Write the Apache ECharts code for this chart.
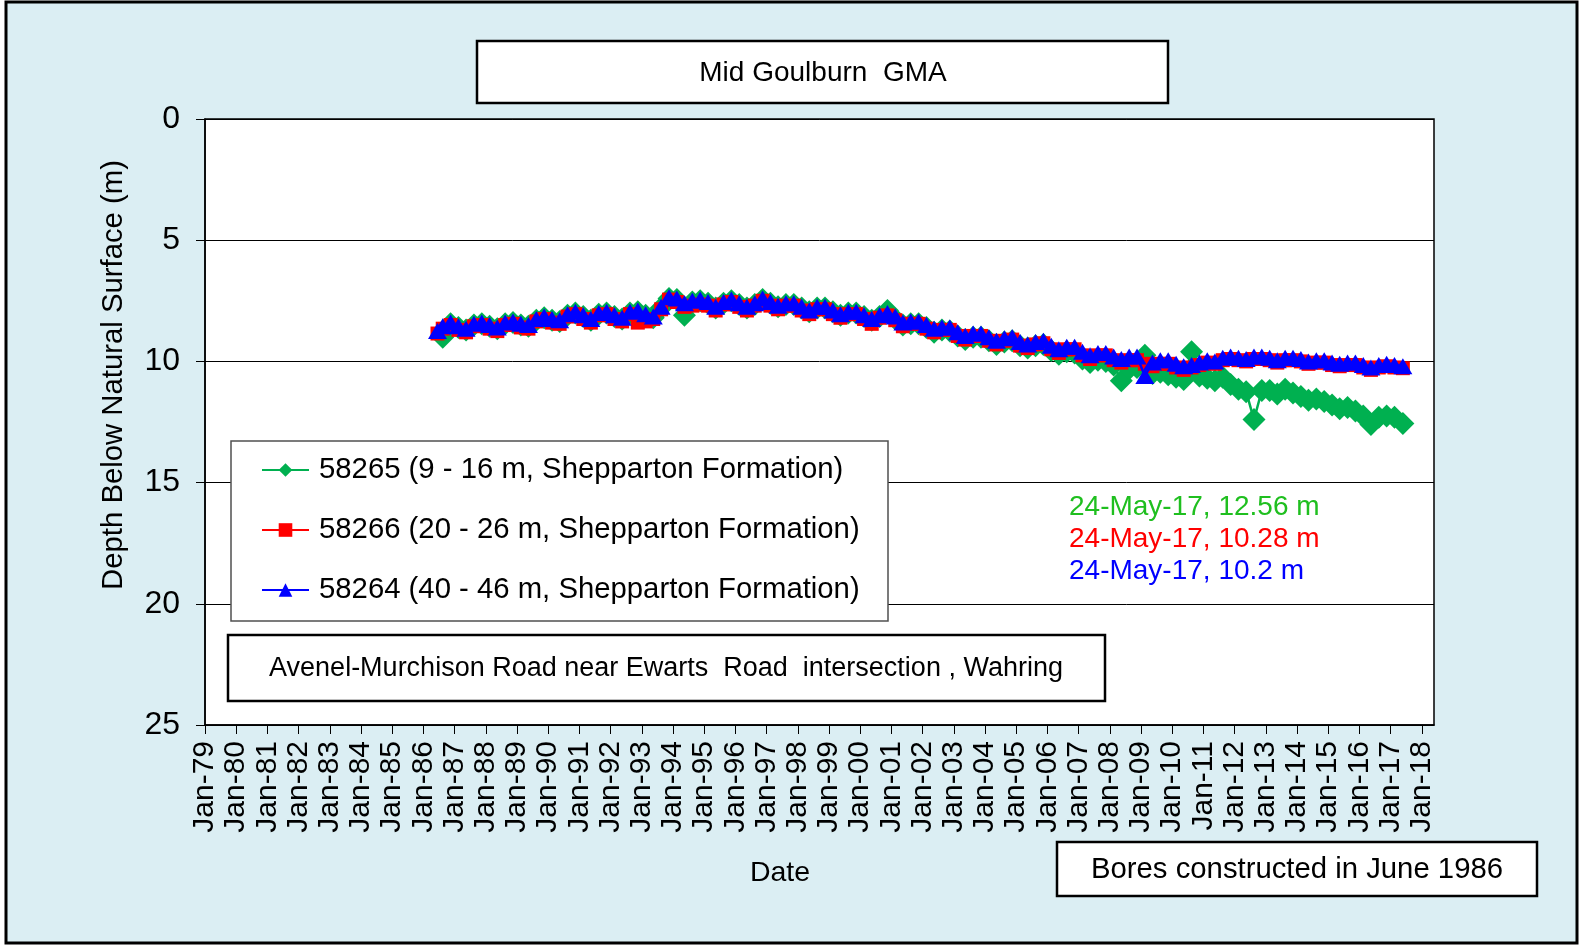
<!DOCTYPE html>
<html>
<head>
<meta charset="utf-8">
<script src="https://cdn.jsdelivr.net/npm/echarts@6/dist/echarts.min.js"></script>
<style>
html,body{margin:0;padding:0;background:#ffffff;}
#wrap{position:relative;width:1580px;height:945px;background:#ffffff;}
#bg{position:absolute;left:6px;top:2px;width:1571px;height:941px;background:#DBEEF3;}
#chart{position:absolute;left:0;top:0;width:1580px;height:945px;}
</style>
</head>
<body>
<div id="wrap"><div id="bg"></div><div id="chart"></div></div>
<script>
// ---------------- DATA ----------------
const seriesNames = [
  '58265 (9 - 16 m, Shepparton Formation)',
  '58266 (20 - 26 m, Shepparton Formation)',
  '58264 (40 - 46 m, Shepparton Formation)'
];
const dates = [
  '1986-06-15','1986-08-15','1986-11-15',
  '1987-02-15','1987-05-15','1987-08-15','1987-11-15',
  '1988-02-15','1988-05-15','1988-08-15','1988-11-15',
  '1989-02-15','1989-05-15','1989-08-15','1989-11-15',
  '1990-02-15','1990-05-15','1990-08-15','1990-11-15',
  '1991-02-15','1991-05-15','1991-08-15','1991-11-15',
  '1992-02-15','1992-05-15','1992-08-15','1992-11-15',
  '1993-02-15','1993-05-15','1993-08-15','1993-11-15',
  '1994-02-15','1994-05-15','1994-08-15','1994-11-15',
  '1995-02-15','1995-05-15','1995-08-15','1995-11-15',
  '1996-02-15','1996-05-15','1996-08-15','1996-11-15',
  '1997-02-15','1997-05-15','1997-08-15','1997-11-15',
  '1998-02-15','1998-05-15','1998-08-15','1998-11-15',
  '1999-02-15','1999-05-15','1999-08-15','1999-11-15',
  '2000-02-15','2000-05-15','2000-08-15','2000-11-15',
  '2001-02-15','2001-05-15','2001-08-15','2001-11-15',
  '2002-02-15','2002-05-15','2002-08-15','2002-11-15',
  '2003-02-15','2003-05-15','2003-08-15','2003-11-15',
  '2004-02-15','2004-05-15','2004-08-15','2004-11-15',
  '2005-02-15','2005-05-15','2005-08-15','2005-11-15',
  '2006-02-15','2006-05-15','2006-08-15','2006-11-15',
  '2007-02-15','2007-05-15','2007-08-15','2007-11-15',
  '2008-02-15','2008-05-15','2008-08-15','2008-11-15',
  '2009-02-15','2009-05-15','2009-08-15','2009-11-15',
  '2010-02-15','2010-05-15','2010-08-15','2010-11-15',
  '2011-02-15','2011-05-15','2011-08-15','2011-11-15',
  '2012-02-15','2012-05-15','2012-08-15','2012-11-15',
  '2013-02-15','2013-05-15','2013-08-15','2013-11-15',
  '2014-02-15','2014-05-15','2014-08-15','2014-11-15',
  '2015-02-15','2015-05-15','2015-08-15','2015-11-15',
  '2016-02-15','2016-05-15','2016-08-15','2016-11-15',
  '2017-02-15','2017-05-24'
];
// 58265 (green) depth below natural surface, m
const bore58265 = [
  null, 9.00, 8.45,
  8.60, 8.70, 8.50, 8.45,
  8.55, 8.65, 8.45, 8.40,
  8.50, 8.55, 8.30, 8.20,
  8.30, 8.35, 8.10, 8.00,
  8.15, 8.30, 8.05, 8.00,
  8.15, 8.25, 8.00, 7.95,
  8.10, 8.20, 7.80, 7.40,
  7.45, 8.10, 7.55, 7.50,
  7.60, 7.80, 7.60, 7.50,
  7.65, 7.80, 7.65, 7.45,
  7.60, 7.75, 7.65, 7.65,
  7.80, 7.95, 7.80, 7.80,
  7.95, 8.10, 8.00, 8.00,
  8.15, 8.30, 8.15, 7.90,
  8.25, 8.50, 8.45, 8.45,
  8.60, 8.80, 8.70, 8.75,
  8.95, 9.10, 9.00, 9.00,
  9.15, 9.30, 9.20, 9.15,
  9.35, 9.45, 9.35, 9.30,
  9.55, 9.70, 9.60, 9.65,
  9.90, 10.05, 9.95, 10.00,
  10.15, 10.80, 10.30, 10.25,
  9.75, 10.50, 10.45, 10.55,
  10.65, 10.75, 9.60, 10.60,
  10.70, 10.80, 10.65, 10.95,
  11.15, 11.25, 12.40, 11.20,
  11.20, 11.35, 11.15, 11.30,
  11.45, 11.60, 11.55, 11.65,
  11.80, 11.95, 11.90, 12.05,
  12.25, 12.60, 12.30, 12.25,
  12.30, 12.56
];
// 58266 (red)
const bore58266 = [
  8.85, 8.65, 8.50,
  8.70, 8.80, 8.55, 8.50,
  8.65, 8.75, 8.50, 8.45,
  8.60, 8.65, 8.35, 8.25,
  8.40, 8.45, 8.15, 8.05,
  8.25, 8.40, 8.10, 8.05,
  8.25, 8.35, 8.05, 8.40,
  8.35, 8.25, 7.85, 7.45,
  7.55, 7.75, 7.70, 7.65,
  7.70, 7.90, 7.65, 7.55,
  7.75, 7.90, 7.70, 7.50,
  7.70, 7.85, 7.70, 7.70,
  7.90, 8.05, 7.85, 7.85,
  8.05, 8.20, 8.05, 8.05,
  8.25, 8.45, 8.20, 8.10,
  8.30, 8.55, 8.45, 8.45,
  8.65, 8.80, 8.70, 8.70,
  8.95, 9.10, 8.95, 8.95,
  9.15, 9.30, 9.15, 9.10,
  9.35, 9.45, 9.30, 9.25,
  9.50, 9.65, 9.50, 9.50,
  9.75, 9.90, 9.75, 9.75,
  9.95, 10.05, 9.95, 9.95,
  10.10, 10.20, 10.10, 10.10,
  10.25, 10.35, 10.25, 10.15,
  10.05, 10.10, 9.95, 9.90,
  9.95, 10.00, 9.90, 9.90,
  9.95, 10.05, 9.95, 9.95,
  10.00, 10.10, 10.05, 10.05,
  10.15, 10.20, 10.15, 10.15,
  10.25, 10.35, 10.25, 10.20,
  10.25, 10.28
];
// 58264 (blue)
const bore58264 = [
  8.75, 8.55, 8.40,
  8.55, 8.65, 8.45, 8.40,
  8.50, 8.60, 8.40, 8.35,
  8.45, 8.50, 8.25, 8.15,
  8.25, 8.30, 8.05, 7.95,
  8.10, 8.25, 8.00, 7.95,
  8.10, 8.20, 7.95, 7.90,
  8.05, 8.15, 7.75, 7.35,
  7.40, 7.60, 7.50, 7.45,
  7.55, 7.75, 7.55, 7.45,
  7.60, 7.75, 7.60, 7.40,
  7.55, 7.70, 7.60, 7.60,
  7.75, 7.90, 7.75, 7.75,
  7.90, 8.05, 7.95, 7.95,
  8.10, 8.25, 8.10, 8.00,
  8.15, 8.40, 8.35, 8.35,
  8.50, 8.65, 8.60, 8.60,
  8.80, 8.95, 8.85, 8.85,
  9.00, 9.15, 9.05, 9.00,
  9.20, 9.30, 9.20, 9.15,
  9.35, 9.50, 9.40, 9.40,
  9.60, 9.75, 9.65, 9.65,
  9.80, 9.90, 9.80, 9.80,
  10.60, 10.05, 9.95, 9.95,
  10.10, 10.20, 10.15, 10.05,
  9.95, 10.00, 9.85, 9.80,
  9.85, 9.90, 9.80, 9.80,
  9.85, 9.95, 9.85, 9.85,
  9.90, 10.00, 9.95, 9.95,
  10.05, 10.10, 10.05, 10.05,
  10.15, 10.25, 10.15, 10.10,
  10.15, 10.20
];
const xMinYear = 1979;
const xMaxYear = 2018.39;
const yTicks = [0, 5, 10, 15, 20, 25];
const latestNotes = [
  '24-May-17, 12.56 m',
  '24-May-17, 10.28 m',
  '24-May-17, 10.2 m'
];
const titleText = 'Mid Goulburn  GMA';
const siteText = 'Avenel-Murchison Road near Ewarts  Road  intersection , Wahring';
const boresText = 'Bores constructed in June 1986';

// ---------------- BUILD ----------------
function toYear(s) {
  const p = s.split('-').map(Number);
  const a = Date.UTC(p[0], 0, 1), b = Date.UTC(p[0] + 1, 0, 1);
  return p[0] + (Date.UTC(p[0], p[1] - 1, p[2]) - a) / (b - a);
}
function pairs(arr) {
  const out = [];
  arr.forEach((v, i) => { if (v !== null) out.push([toYear(dates[i]), v]); });
  return out;
}
const FONT = '"Liberation Sans", Arial, sans-serif';
const GREEN = '#00B050', RED = '#FF0000', BLUE = '#0000FF';
const noteColors = ['#1FBF1F', '#FF0000', '#0000FF'];

const chart = echarts.init(document.getElementById('chart'), null, {renderer: 'canvas'});

const graphics = [
  {type: 'rect', z: 50, silent: true, shape: {x: 6, y: 2, width: 1571, height: 941},
   style: {fill: 'none', stroke: '#000', lineWidth: 3}},
  {type: 'rect', z: 10, shape: {x: 477, y: 41, width: 691, height: 62},
   style: {fill: '#fff', stroke: '#000', lineWidth: 2.5}},
  {type: 'text', z: 11, x: 823, y: 73,
   style: {text: titleText, fill: '#000', fontSize: 28, fontFamily: FONT, align: 'center', verticalAlign: 'middle'}},
  {type: 'rect', z: 10, shape: {x: 231, y: 441, width: 657, height: 180},
   style: {fill: '#fff', stroke: '#505050', lineWidth: 1.5}},
  {type: 'rect', z: 10, shape: {x: 228, y: 635, width: 877, height: 66},
   style: {fill: '#fff', stroke: '#000', lineWidth: 2.5}},
  {type: 'text', z: 11, x: 666, y: 669,
   style: {text: siteText, fill: '#000', fontSize: 27, fontFamily: FONT, align: 'center', verticalAlign: 'middle'}},
  {type: 'rect', z: 10, shape: {x: 1057, y: 842, width: 480, height: 54},
   style: {fill: '#fff', stroke: '#000', lineWidth: 2.5}},
  {type: 'text', z: 11, x: 1297, y: 870,
   style: {text: boresText, fill: '#000', fontSize: 29.3, fontFamily: FONT, align: 'center', verticalAlign: 'middle'}},
  {type: 'text', z: 11, x: 780, y: 873,
   style: {text: 'Date', fill: '#000', fontSize: 28.5, fontFamily: FONT, align: 'center', verticalAlign: 'middle'}},
  {type: 'text', z: 11, x: 114, y: 375, rotation: Math.PI / 2,
   style: {text: 'Depth Below Natural Surface (m)', fill: '#000', fontSize: 29.3, fontFamily: FONT, align: 'center', verticalAlign: 'middle'}}
];
latestNotes.forEach((t, i) => {
  graphics.push({type: 'text', z: 11, x: 1069, y: 507 + i * 32,
    style: {text: t, fill: noteColors[i], fontSize: 28, fontFamily: FONT, align: 'left', verticalAlign: 'middle'}});
});

const option = {
  backgroundColor: 'transparent',
  animation: false,
  textStyle: {fontFamily: FONT},
  grid: {left: 205, top: 119, width: 1229, height: 606, show: true,
         backgroundColor: '#fff', borderColor: '#000', borderWidth: 1.5},
  xAxis: {
    type: 'value', min: xMinYear, max: xMaxYear, interval: 1,
    axisLine: {show: true, onZero: false, lineStyle: {color: '#000', width: 1.5}},
    axisTick: {show: true, inside: false, length: 9, lineStyle: {color: '#000', width: 1}},
    splitLine: {show: false},
    axisLabel: {
      rotate: 90, margin: 16, color: '#000', fontSize: 30, fontFamily: FONT,
      showMaxLabel: false,
      formatter: v => Number.isInteger(v) ? 'Jan-' + String(v).slice(2) : ''
    }
  },
  yAxis: {
    type: 'value', inverse: true, min: yTicks[0], max: yTicks[yTicks.length - 1], interval: 5,
    axisLine: {show: true, lineStyle: {color: '#000', width: 1.5}},
    axisTick: {show: true, inside: false, length: 9, lineStyle: {color: '#000', width: 1}},
    splitLine: {show: true, lineStyle: {color: '#000', width: 1}},
    axisLabel: {margin: 25, color: '#000', fontSize: 32, fontFamily: FONT}
  },
  legend: {
    orient: 'vertical', left: 261, top: 455, z: 12, selectedMode: false,
    itemWidth: 47, itemHeight: 17, itemGap: 30, padding: 0,
    textStyle: {fontSize: 29.3, lineHeight: 30, color: '#000', fontFamily: FONT, padding: [0, 0, 0, 5]},
    data: seriesNames
  },
  series: [
    {name: seriesNames[0], type: 'line', data: pairs(bore58265), z: 2,
     symbol: 'diamond', symbolSize: 23, showAllSymbol: true,
     lineStyle: {color: GREEN, width: 2.5}, itemStyle: {color: GREEN}},
    {name: seriesNames[1], type: 'line', data: pairs(bore58266), z: 3,
     symbol: 'rect', symbolSize: 14, showAllSymbol: true,
     lineStyle: {color: RED, width: 2.5}, itemStyle: {color: RED}},
    {name: seriesNames[2], type: 'line', data: pairs(bore58264), z: 4,
     symbol: 'triangle', symbolSize: [19, 16], showAllSymbol: true,
     lineStyle: {color: BLUE, width: 2.5}, itemStyle: {color: BLUE}}
  ],
  graphic: graphics
};
chart.setOption(option);
</script>
</body>
</html>
